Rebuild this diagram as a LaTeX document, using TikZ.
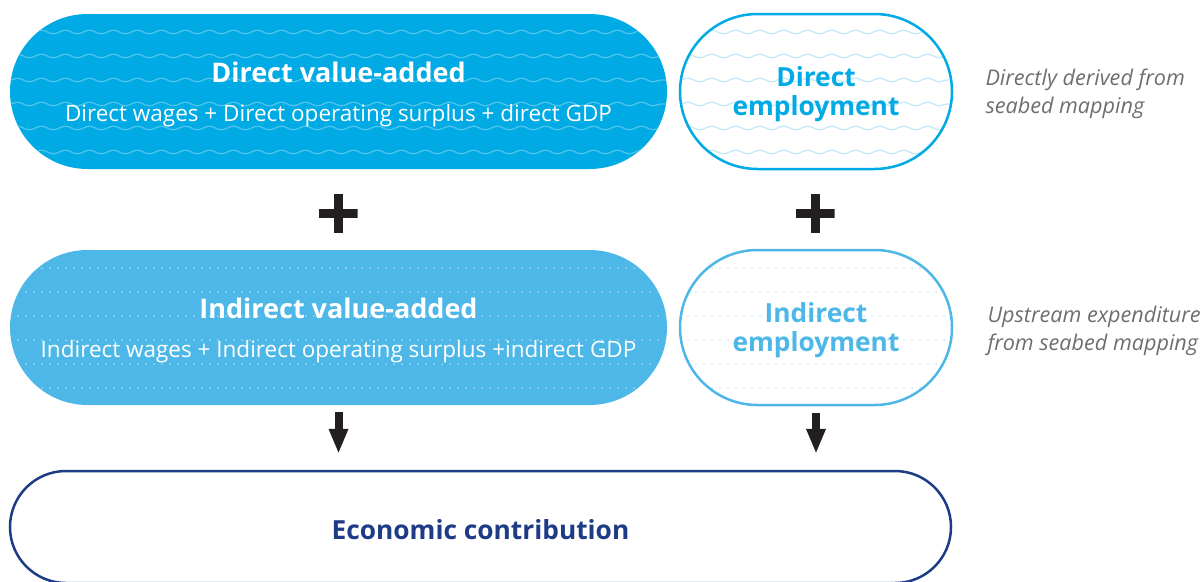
\documentclass[tikz,border=0pt]{standalone}
\usepackage{fontspec}
\setmainfont{Open Sans}
\usetikzlibrary{positioning}
\usetikzlibrary{arrows.meta}
\usetikzlibrary{decorations.pathmorphing}
\definecolor{seacyan}{HTML}{00AAE4}
\definecolor{sealight}{HTML}{4DB8E8}
\definecolor{seanavy}{HTML}{1D3C85}
\definecolor{notegray}{HTML}{6D6E71}
\definecolor{inkdark}{HTML}{231F20}
\definecolor{palewave}{HTML}{C6E9F8}

\tikzset{
  pill/.style={rounded corners=77.5pt, minimum height=155pt, inner sep=0pt, align=center,
    font=\fontsize{22.5}{39}\selectfont, text height=65pt, text depth=6pt},
  emppill/.style={pill, minimum width=272pt, fill=white, line width=2.5pt,
    font=\fontsize{26.3}{28.5}\selectfont\bfseries, text height=53pt, text depth=6pt},
  wavy/.style={path picture={
    \foreach \dy in {18,42,...,138}
      \draw[#1, sharp corners, line width=1.3pt, decorate, decoration={snake, amplitude=1.8pt, segment length=24pt}]
        ([yshift=-\dy pt]path picture bounding box.north west) -- ([yshift=-\dy pt]path picture bounding box.north east);}},
  dotty/.style={path picture={
    \foreach \dy in {18,42,...,138}
      \draw[#1, sharp corners, line width=2pt, line cap=round, dash pattern=on 0pt off 8pt]
        ([yshift=-\dy pt]path picture bounding box.north west) -- ([yshift=-\dy pt]path picture bounding box.north east);}},
  plussign/.style={minimum size=39pt, inner sep=0pt, path picture={
    \fill[inkdark] ([yshift=-4.5pt]path picture bounding box.west) rectangle ([yshift=4.5pt]path picture bounding box.east);
    \fill[inkdark] ([xshift=-4.5pt]path picture bounding box.south) rectangle ([xshift=4.5pt]path picture bounding box.north);}},
  note/.style={align=left, anchor=west, text=notegray, font=\fontsize{21.6}{28}\selectfont\itshape},
  downarrow/.style={-{Triangle[width=18pt,length=25pt]}, line width=8pt, inkdark}
}

\begin{document}
\begin{tikzpicture}[x=1pt, y=-1pt]
    \useasboundingbox (0,0) rectangle (1201,581);
    % value-added column
    \node[pill, minimum width=657pt, fill=seacyan, text=white, wavy=white!30!seacyan] (dva) at (338.5,91.5)
        {{\fontsize{27}{39}\selectfont\bfseries Direct value-added}\\Direct wages + Direct operating surplus + direct GDP};
    \node[pill, minimum width=657pt, fill=sealight, text=white, dotty=white!45!sealight] (indva) at (338.5,327.5)
        {{\fontsize{27}{39}\selectfont\bfseries Indirect value-added}\\Indirect wages + Indirect operating surplus +indirect GDP};
    % employment column
    \node[emppill, draw=seacyan, text=seacyan, wavy=palewave] (demp) at (816,91.5) {Direct\\employment};
    \node[emppill, draw=sealight, text=sealight, dotty=palewave] (indemp) at (816,327.5) {Indirect\\employment};
    % notes
    \node[note] (dnote) at (982,94) {Directly derived from\\seabed mapping};
    \node[note] (indnote) at (984,331) {Upstream expenditure\\from seabed mapping};
    % total
    \node[pill, rounded corners=56pt, minimum height=112pt, minimum width=941pt, draw=seanavy, line width=2.5pt,
        text=seanavy, font=\fontsize{26.3}{30}\selectfont\bfseries, text height=30pt, text depth=6pt] (econ) at (480.5,527) {Economic contribution};
    % operators
    \node[plussign] (plusL) at (338,213) {};
    \node[plussign] (plusR) at (815,213) {};
    \coordinate (tipL) at (indva.south |- econ.north);
    \coordinate (tipR) at (indemp.south |- econ.north);
    \draw[downarrow] ([yshift=-7pt]indva.south) -- ([yshift=16pt]tipL);
    \draw[downarrow] ([yshift=-7pt]indemp.south) -- ([yshift=16pt]tipR);
\end{tikzpicture}
\end{document}
